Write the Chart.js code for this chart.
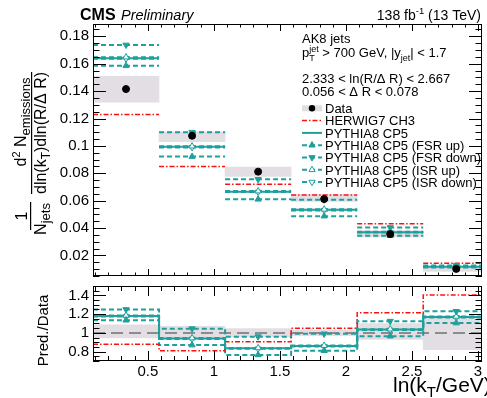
<!DOCTYPE html>
<html>
<head>
<meta charset="utf-8">
<script src="https://cdn.jsdelivr.net/npm/chart.js@4"></script>
<style>
  html, body { margin: 0; padding: 0; background: #fff; }
  #wrap { position: relative; width: 487px; height: 398px; overflow: hidden; }
  canvas { position: absolute; left: 0; }
  #top { top: 0; }
  #bot { top: 281px; }
</style>
</head>
<body>
<div id="wrap">
  <canvas id="top" width="487" height="281"></canvas>
  <canvas id="bot" width="487" height="117"></canvas>
</div>
<script>
// bins in ln(kT/GeV)
const binEdges = [0.085, 0.585, 1.085, 1.585, 2.085, 2.585, 3.085];
const xTickVals = [0.5, 1, 1.5, 2, 2.5, 3];
const yTickVals = [0.02, 0.04, 0.06, 0.08, 0.1, 0.12, 0.14, 0.16, 0.18];
const ratioTickVals = [0.8, 1, 1.2, 1.4];

// main panel
const dataY   = [0.1415, 0.1074, 0.0812, 0.0612, 0.0356, 0.0102];
const dataLo  = [0.1320, 0.1031, 0.0777, 0.0594, 0.0335, 0.0084];
const dataHi  = [0.1508, 0.1103, 0.0845, 0.0645, 0.0380, 0.0122];
const herwig  = [0.1230, 0.0850, 0.0720, 0.0641, 0.0432, 0.0143];
const cp5     = [0.1640, 0.0993, 0.0666, 0.0533, 0.0370, 0.0118];
const fsrUp   = [0.1585, 0.0922, 0.0610, 0.0487, 0.0344, 0.0112];
const fsrDown = [0.1737, 0.1100, 0.0756, 0.0607, 0.0404, 0.0127];
const isrUp   = [0.1648, 0.0998, 0.0670, 0.0537, 0.0373, 0.0120];
const isrDown = [0.1636, 0.0989, 0.0663, 0.0529, 0.0367, 0.0117];

// ratio panel (pred./data)
const rBandLo  = [0.945, 0.950, 0.960, 0.970, 0.930, 0.820];
const rBandHi  = [1.085, 1.070, 1.045, 1.030, 1.100, 1.180];
const rHerwig  = [0.880, 0.810, 0.905, 1.050, 1.215, 1.405];
const rCp5     = [1.180, 0.940, 0.835, 0.860, 1.035, 1.170];
const rFsrUp   = [1.135, 0.870, 0.765, 0.810, 0.965, 1.105];
const rFsrDown = [1.250, 1.045, 0.960, 0.990, 1.125, 1.230];
const rIsrUp   = [1.185, 0.945, 0.840, 0.865, 1.040, 1.175];
const rIsrDown = [1.175, 0.935, 0.830, 0.855, 1.030, 1.165];
const rUnity   = [1, 1];

const X_MIN = 0.085, X_MAX = 3.03;
const TEAL = '#1ea09c', RED = '#ff1010', BAND = '#e3dee3', GREY = '#8c8c8c';
const F = '"Liberation Sans", Arial, Helvetica, sans-serif';
const DASH = [5, 3], DOTDASH = [5, 2, 1.5, 2];

Chart.defaults.font.family = F;
Chart.defaults.color = '#000';

const centres = binEdges.slice(0, -1).map((e, i) => (e + binEdges[i + 1]) / 2);
const segs = vals => vals.flatMap((v, i) => [{ x: binEdges[i], y: v }, { x: binEdges[i + 1], y: v }, { x: binEdges[i + 1], y: null }]);
const steps = vals => vals.map((v, i) => ({ x: binEdges[i], y: v })).concat([{ x: binEdges[vals.length], y: vals[vals.length - 1] }]);
const marks = vals => vals.map((v, i) => ({ x: centres[i], y: v }));
const band = (lo, hi) => lo.map((l, i) => ({ x: centres[i], y: [l, hi[i]] }));

const bandDs = (lo, hi) => ({ type: 'bar', data: band(lo, hi), backgroundColor: BAND, borderWidth: 0, barPercentage: 1, categoryPercentage: 1, order: 6 });
const lineDs = (data, color, dash, width, order, stepped) => ({
  type: 'line', data, borderColor: color, borderDash: dash, borderWidth: width,
  pointRadius: 0, spanGaps: false, fill: false, stepped: !!stepped, order
});
const markDs = (vals, rot, filled) => ({
  type: 'line', data: marks(vals), showLine: false, pointStyle: 'triangle', pointRotation: rot,
  pointRadius: 3.6, pointBackgroundColor: filled ? TEAL : '#fff', pointBorderColor: TEAL, pointBorderWidth: 1, order: 1
});

const frameTicks = {
  id: 'frameTicks',
  afterDatasetsDraw(chart, args, o) {
    const { ctx, chartArea: a } = chart;
    const sx = chart.scales.x, sy = chart.scales.y;
    const each = (scale, major, minor, fn) => {
      const n0 = Math.ceil(scale.min / minor - 1e-6), n1 = Math.floor(scale.max / minor + 1e-6);
      for (let n = n0; n <= n1; n++) {
        const v = n * minor, r = v / major;
        fn(Math.round(scale.getPixelForValue(v)) + 0.5, Math.abs(r - Math.round(r)) < 1e-6);
      }
    };
    ctx.save();
    ctx.strokeStyle = '#000';
    ctx.lineWidth = 1;
    ctx.beginPath();
    each(sx, o.xMajor, o.xMinor, (p, big) => {
      const l = big ? o.xLen[0] : o.xLen[1];
      ctx.moveTo(p, a.bottom); ctx.lineTo(p, a.bottom - l);
      ctx.moveTo(p, a.top); ctx.lineTo(p, a.top + l);
    });
    each(sy, o.yMajor, o.yMinor, (p, big) => {
      const l = big ? o.yLen[0] : o.yLen[1];
      ctx.moveTo(a.left, p); ctx.lineTo(a.left + l, p);
      ctx.moveTo(a.right, p); ctx.lineTo(a.right - l, p);
    });
    ctx.stroke();
    ctx.strokeRect(a.left + 0.5, a.top + 0.5, a.right - a.left - 1, a.bottom - a.top - 1);
    ctx.restore();
  }
};

function drawRuns(ctx, parts, x, y, align) {
  let w = 0;
  for (const p of parts) { ctx.font = p.f; p.w = p.back ? 0 : ctx.measureText(p.t).width; w += p.w; }
  let cx = align === 'center' ? x - w / 2 : align === 'right' ? x - w : x;
  let prev = cx;
  ctx.textAlign = 'left';
  for (const p of parts) {
    ctx.font = p.f;
    if (p.back) { ctx.fillText(p.t, prev, y + (p.dy || 0)); continue; }
    ctx.fillText(p.t, cx, y + (p.dy || 0));
    prev = cx;
    cx += p.w;
  }
}

const f = (s, style) => (style ? style + ' ' : '') + s + 'px ' + F;

const legendItems = [
  { label: 'Data', kind: 'data' },
  { label: 'HERWIG7 CH3', color: RED, dash: DOTDASH },
  { label: 'PYTHIA8 CP5', color: TEAL, dash: [] },
  { label: 'PYTHIA8 CP5 (FSR up)', color: TEAL, dash: DASH, rot: 0, filled: true },
  { label: 'PYTHIA8 CP5 (FSR down)', color: TEAL, dash: DASH, rot: 180, filled: true },
  { label: 'PYTHIA8 CP5 (ISR up)', color: TEAL, dash: DASH, rot: 0, filled: false },
  { label: 'PYTHIA8 CP5 (ISR down)', color: TEAL, dash: DASH, rot: 180, filled: false }
];

const topText = {
  id: 'topText',
  afterDraw(chart) {
    const ctx = chart.ctx;
    ctx.save();
    ctx.fillStyle = '#000';
    ctx.textBaseline = 'alphabetic';
    ctx.textAlign = 'left';
    ctx.font = f(16, 'bold'); ctx.fillText('CMS', 80, 19.5);
    ctx.font = f(14.5, 'italic'); ctx.fillText('Preliminary', 121, 19.5);
    drawRuns(ctx, [{ t: '138 fb', f: f(14) }, { t: '-1', f: f(9.5), dy: -6 }, { t: ' (13 TeV)', f: f(14) }], 481, 19.5, 'right');

    ctx.font = f(13);
    ctx.fillText('AK8 jets', 302, 43);
    drawRuns(ctx, [
      { t: 'p', f: f(13) }, { t: 'jet', f: f(9), dy: -5 }, { t: 'T', f: f(9), dy: 4, back: true },
      { t: ' > 700 GeV, |y', f: f(13) }, { t: 'jet', f: f(9), dy: 4 }, { t: '| < 1.7', f: f(13) }
    ], 302, 56.5, 'left');
    ctx.font = f(13);
    ctx.fillText('2.333 < ln(R/\u0394 R) < 2.667', 302, 82.5);
    ctx.fillText('0.056 < \u0394 R < 0.078', 302, 95.5);

    legendItems.forEach((it, i) => {
      const cy = 108.3 + i * 12.3;
      if (it.kind === 'data') {
        ctx.fillStyle = BAND; ctx.fillRect(302, cy - 3, 20, 6);
        ctx.fillStyle = '#000'; ctx.beginPath(); ctx.arc(312, cy, 3.2, 0, 2 * Math.PI); ctx.fill();
      } else {
        ctx.strokeStyle = it.color; ctx.lineWidth = it.dash === DOTDASH ? 1.5 : 2;
        ctx.setLineDash(it.dash);
        ctx.beginPath(); ctx.moveTo(302, cy); ctx.lineTo(322, cy); ctx.stroke();
        ctx.setLineDash([]);
        if (it.rot !== undefined) {
          ctx.fillStyle = it.filled ? TEAL : '#fff'; ctx.strokeStyle = TEAL; ctx.lineWidth = 1;
          Chart.helpers.drawPoint(ctx, { pointStyle: 'triangle', rotation: it.rot, radius: 3.6, borderWidth: 1 }, 312, cy);
        }
      }
      ctx.fillStyle = '#000'; ctx.font = f(13); ctx.textAlign = 'left';
      ctx.fillText(it.label, 325, cy + 4.7);
    });

    // y title, rotated
    ctx.save();
    ctx.rotate(-Math.PI / 2);
    ctx.fillStyle = '#000';
    drawRuns(ctx, [{ t: '1', f: f(16) }], -216, 27, 'center');
    drawRuns(ctx, [{ t: 'N', f: f(16) }, { t: 'jets', f: f(13), dy: 4 }], -219, 46, 'center');
    drawRuns(ctx, [{ t: 'd', f: f(16) }, { t: '2', f: f(11), dy: -6 }, { t: ' N', f: f(16) }, { t: 'emissions', f: f(13), dy: 4 }], -122, 26, 'center');
    drawRuns(ctx, [{ t: 'dln(k', f: f(16) }, { t: 'T', f: f(12), dy: 4 }, { t: ')dln(R/\u0394 R)', f: f(16) }], -133, 46, 'center');
    ctx.restore();
    ctx.fillRect(30, 202, 1.2, 28);
    ctx.fillRect(31, 72, 1.2, 122);
    ctx.restore();
  }
};

const botText = {
  id: 'botText',
  afterDraw(chart) {
    const ctx = chart.ctx;
    ctx.save();
    ctx.fillStyle = '#000';
    ctx.textBaseline = 'alphabetic';
    drawRuns(ctx, [{ t: 'ln(k', f: f(21) }, { t: 'T', f: f(15), dy: 5 }, { t: '/GeV)', f: f(21) }], 393, 111, 'left');
    ctx.save();
    ctx.rotate(-Math.PI / 2);
    drawRuns(ctx, [{ t: 'Pred./Data', f: f(15) }], -49.5, 48, 'center');
    ctx.restore();
    ctx.restore();
  }
};

const fmt = v => String(+v.toFixed(3));
const noPad = s => { s.paddingTop = 0; s.paddingBottom = 0; s.paddingLeft = 0; s.paddingRight = 0; };

const xScale = (showLabels, height) => ({
  type: 'linear', min: X_MIN, max: X_MAX, offset: false,
  grid: { display: false, drawTicks: false, offset: false }, border: { display: false },
  ticks: showLabels
    ? { padding: 2, font: { size: 15 }, color: '#000', autoSkip: false, maxRotation: 0, callback: v => fmt(v) }
    : { display: false },
  afterBuildTicks(s) { s.ticks = xTickVals.map(v => ({ value: v })); },
  afterFit(s) { s.height = height; noPad(s); }
});
const yScale = (min, max, vals) => ({
  type: 'linear', min, max,
  grid: { display: false, drawTicks: false }, border: { display: false },
  ticks: { padding: 4, font: { size: 15 }, color: '#000', autoSkip: false, callback: v => fmt(v) },
  afterBuildTicks(s) { s.ticks = vals.map(v => ({ value: v })); },
  afterFit(s) { s.width = 93; noPad(s); }
});

new Chart(document.getElementById('top'), {
  type: 'line',
  data: {
    datasets: [
      bandDs(dataLo, dataHi),
      lineDs(segs(herwig), RED, DOTDASH, 1.5, 5),
      lineDs(segs(fsrUp), TEAL, DASH, 2, 4),
      lineDs(segs(fsrDown), TEAL, DASH, 2, 4),
      lineDs(segs(isrUp), TEAL, DASH, 2, 4),
      lineDs(segs(isrDown), TEAL, DASH, 2, 4),
      lineDs(segs(cp5), TEAL, [], 2, 3),
      markDs(fsrUp, 0, true),
      markDs(fsrDown, 180, true),
      markDs(isrUp, 0, false),
      markDs(isrDown, 180, false),
      { type: 'line', data: marks(dataY), showLine: false, pointRadius: 3.5, pointBackgroundColor: '#000', pointBorderColor: '#000', order: 0 }
    ]
  },
  options: {
    responsive: false, animation: false, devicePixelRatio: 1, events: [],
    layout: { padding: { top: 24, right: 3, left: 0, bottom: 0 } },
    plugins: {
      legend: { display: false }, tooltip: { enabled: false },
      frameTicks: { xMajor: 0.5, xMinor: 0.1, yMajor: 0.02, yMinor: 0.005, xLen: [7, 3.5], yLen: [13, 6.5] }
    },
    scales: { x: xScale(false, 3), y: yScale(0.005, 0.189, yTickVals) }
  },
  plugins: [frameTicks, topText]
});

new Chart(document.getElementById('bot'), {
  type: 'line',
  data: {
    datasets: [
      bandDs(rBandLo, rBandHi),
      lineDs([{ x: X_MIN, y: rUnity[0] }, { x: X_MAX, y: rUnity[1] }], GREY, [12, 6], 2, 5),
      lineDs(steps(rHerwig), RED, DOTDASH, 1.5, 4, true),
      lineDs(steps(rFsrUp), TEAL, DASH, 2, 4, true),
      lineDs(steps(rFsrDown), TEAL, DASH, 2, 4, true),
      lineDs(steps(rIsrUp), TEAL, DASH, 2, 4, true),
      lineDs(steps(rIsrDown), TEAL, DASH, 2, 4, true),
      lineDs(steps(rCp5), TEAL, [], 2, 3, true),
      markDs(rFsrUp, 0, true),
      markDs(rFsrDown, 180, true),
      markDs(rIsrUp, 0, false),
      markDs(rIsrDown, 180, false)
    ]
  },
  options: {
    responsive: false, animation: false, devicePixelRatio: 1, events: [],
    layout: { padding: { top: 3, right: 3, left: 0, bottom: 0 } },
    plugins: {
      legend: { display: false }, tooltip: { enabled: false },
      frameTicks: { xMajor: 0.5, xMinor: 0.1, yMajor: 0.2, yMinor: 0.05, xLen: [10, 5], yLen: [13, 6.5] }
    },
    scales: { x: xScale(true, 37), y: yScale(0.7, 1.5, ratioTickVals) }
  },
  plugins: [frameTicks, botText]
});
</script>
</body>
</html>
